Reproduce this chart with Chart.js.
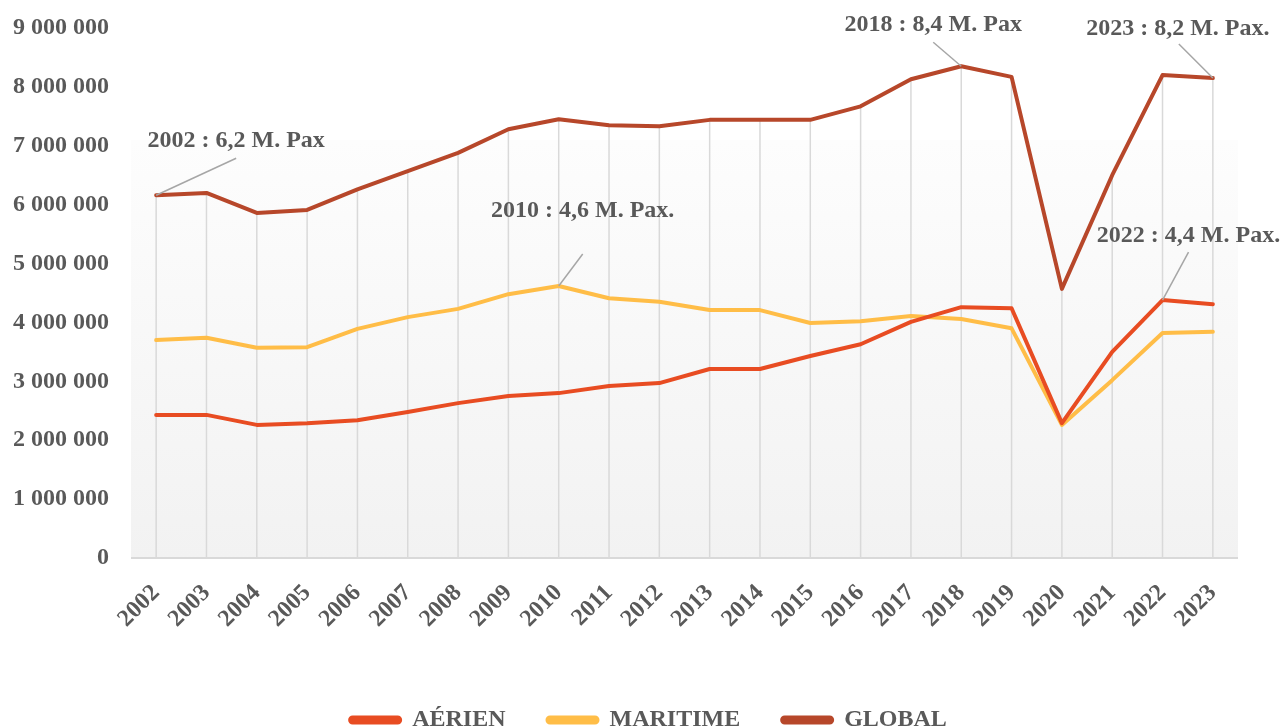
<!DOCTYPE html>
<html lang="fr">
<head>
<meta charset="utf-8">
<title>Passagers 2002-2023</title>
<script src="https://cdn.jsdelivr.net/npm/chart.js@4.4.1/dist/chart.umd.min.js"></script>
<style>
  html, body { margin: 0; padding: 0; background: #fff; overflow: hidden; }
  #wrap { position: relative; width: 1283px; height: 742px; }
</style>
</head>
<body>
<div id="wrap"><canvas id="chart"></canvas></div>
<script>
// --- Data ---
const years = ['2002', '2003', '2004', '2005', '2006', '2007', '2008', '2009', '2010', '2011', '2012',
  '2013', '2014', '2015', '2016', '2017', '2018', '2019', '2020', '2021', '2022', '2023'];

const aerien = [2430000, 2430000, 2260000, 2290000, 2340000, 2480000, 2630000, 2750000, 2800000, 2920000, 2970000,
  3210000, 3210000, 3430000, 3630000, 4010000, 4260000, 4240000, 2290000, 3500000, 4380000, 4310000];

const maritime = [3700000, 3740000, 3570000, 3580000, 3890000, 4090000, 4230000, 4480000, 4620000, 4410000, 4350000,
  4210000, 4210000, 3990000, 4020000, 4110000, 4060000, 3900000, 2260000, 3020000, 3820000, 3840000];

const global = [6160000, 6200000, 5860000, 5910000, 6260000, 6570000, 6880000, 7280000, 7450000, 7350000, 7330000,
  7440000, 7440000, 7440000, 7670000, 8130000, 8350000, 8170000, 4570000, 6500000, 8200000, 8150000];

const seriesNames = ['AÉRIEN', 'MARITIME', 'GLOBAL'];

// callouts: text, year, series index
const calloutTexts = ['2002 : 6,2 M. Pax', '2010 : 4,6 M. Pax.', '2018 : 8,4 M. Pax', '2023 : 8,2 M. Pax.', '2022 : 4,4 M. Pax.'];
const calloutYears = ['2002', '2010', '2018', '2023', '2022'];
const calloutSeries = [2, 1, 2, 2, 0];

// --- Style ---
const colors = ['#E84C22', '#FFBD47', '#B7472A'];
const textColor = '#595959';
const font = { family: "'Liberation Serif', 'Times New Roman', serif", size: 24, weight: 'bold' };
// label / leader-line offsets from the point (px)
const calloutLayout = [
  { tx: 80, ty: -54, lx: 80, ly: -37 },
  { tx: 24, ty: -75, lx: 24, ly: -32 },
  { tx: -28, ty: -41, lx: -28, ly: -24 },
  { tx: -35, ty: -49, lx: -34, ly: -34 },
  { tx: 26, ty: -64, lx: 26, ly: -48 }
];

function formatNumber(v) {
  return String(v).replace(/\B(?=(\d{3})+(?!\d))/g, ' ');
}

// plot background gradient + drop lines from the top series
const plotDecor = {
  id: 'plotDecor',
  afterLayout(chart) {
    // legend sits a little right of centre in the original
    if (chart.legend) {
      chart.legend.left += 23;
      chart.legend.right += 23;
    }
  },
  beforeDatasetsDraw(chart) {
    const { ctx, chartArea, scales } = chart;
    const x = scales.x, y = scales.y;
    ctx.save();
    const top = y.getPixelForValue(7100000);
    const grad = ctx.createLinearGradient(0, top, 0, chartArea.bottom);
    grad.addColorStop(0, '#fdfdfd');
    grad.addColorStop(1, '#f2f2f2');
    ctx.fillStyle = grad;
    ctx.fillRect(chartArea.left, top, chartArea.right - chartArea.left, chartArea.bottom - top);

    ctx.strokeStyle = '#d9d9d9';
    ctx.lineWidth = 1.5;
    global.forEach((v, i) => {
      const px = x.getPixelForValue(i);
      ctx.beginPath();
      ctx.moveTo(px, y.getPixelForValue(v));
      ctx.lineTo(px, chartArea.bottom);
      ctx.stroke();
    });
    // axis line
    ctx.lineWidth = 2;
    ctx.beginPath();
    ctx.moveTo(chartArea.left, chartArea.bottom);
    ctx.lineTo(chartArea.right, chartArea.bottom);
    ctx.stroke();
    ctx.restore();
  },
  afterDraw(chart) {
    const { ctx, scales } = chart;
    const all = [aerien, maritime, global];
    ctx.save();
    ctx.font = `${font.weight} ${font.size}px ${font.family}`;
    ctx.fillStyle = textColor;
    ctx.textAlign = 'center';
    ctx.textBaseline = 'middle';
    calloutTexts.forEach((t, i) => {
      const idx = years.indexOf(calloutYears[i]);
      const px = scales.x.getPixelForValue(idx);
      const py = scales.y.getPixelForValue(all[calloutSeries[i]][idx]);
      const L = calloutLayout[i];
      ctx.strokeStyle = '#a6a6a6';
      ctx.lineWidth = 1.5;
      ctx.beginPath();
      ctx.moveTo(px, py);
      ctx.lineTo(px + L.lx, py + L.ly);
      ctx.stroke();
      ctx.fillText(t, px + L.tx, py + L.ty);
    });
    ctx.restore();
  }
};

const datasets = [aerien, maritime, global].map((d, i) => ({
  label: seriesNames[i],
  data: d,
  borderColor: colors[i],
  backgroundColor: colors[i],
  borderWidth: 4,
  pointRadius: 0,
  tension: 0,
  borderJoinStyle: 'round',
  borderCapStyle: 'round'
}));

new Chart(document.getElementById('chart'), {
  type: 'line',
  data: { labels: years, datasets },
  plugins: [plotDecor],
  options: {
    responsive: true,
    maintainAspectRatio: false,
    animation: false,
    layout: { padding: { left: 13, right: 45, top: 28, bottom: 0 } },
    plugins: {
      tooltip: { enabled: false },
      legend: {
        position: 'bottom',
        labels: {
          color: textColor,
          font,
          boxWidth: 50,
          boxHeight: 5,
          useBorderRadius: true,
          borderRadius: 2.5,
          padding: 42
        }
      }
    },
    scales: {
      x: {
        offset: true,
        grid: { display: false, offset: false, drawTicks: false },
        border: { display: false },
        ticks: { color: textColor, font, maxRotation: 45, minRotation: 45, padding: 21 },
        afterFit(scale) { scale.height = 108; }
      },
      y: {
        min: 0,
        max: 9000000,
        grid: { display: false, drawTicks: false },
        border: { display: false },
        ticks: {
          stepSize: 1000000,
          color: textColor,
          font,
          padding: 22,
          callback: v => formatNumber(v)
        },
        afterFit(scale) {
          scale.width = 118;
          scale.paddingTop = 0;
          scale.paddingBottom = 0;
        }
      }
    }
  }
});
</script>
</body>
</html>
